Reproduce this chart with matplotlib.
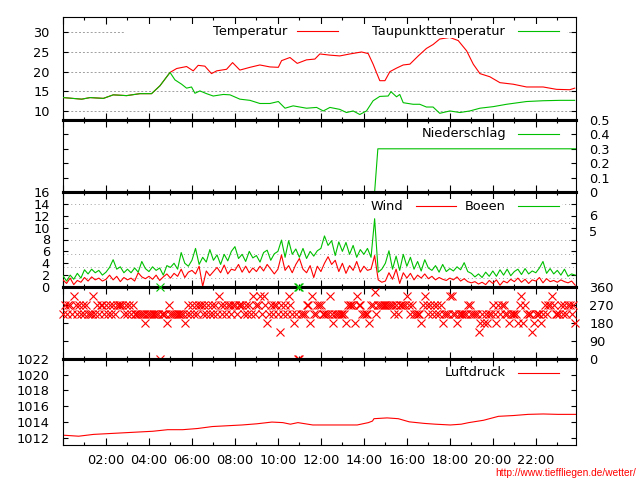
import numpy as np
import matplotlib
matplotlib.use("Agg")
import matplotlib.pyplot as plt
from matplotlib.lines import Line2D
from matplotlib.patches import Rectangle

plt.rcParams['font.family'] = ['DejaVu Sans']

# ---------------- data ----------------
temp_hours = [0.02, 0.87, 1.26, 1.88, 2.34, 2.96, 3.58, 4.12, 4.51, 4.98, 5.29, 5.75, 6.06, 6.29,
              6.60, 6.91, 7.15, 7.61, 7.89, 8.23, 8.70, 9.16, 9.63, 10.02, 10.17, 10.56, 10.90,
              11.33, 11.72, 11.95, 12.42, 12.88, 13.35, 13.89, 14.20, 14.43, 14.74, 14.98, 15.21,
              15.52, 15.83, 16.14, 16.53, 16.91, 17.22, 17.53, 18.00, 18.39, 18.78, 19.09, 19.40,
              19.86, 20.33, 20.95, 21.57, 22.34, 22.96, 23.58, 23.81]
temp_values = [13.4, 13.0, 13.4, 13.2, 14.1, 13.9, 14.4, 14.4, 16.4, 19.8, 20.8, 21.3, 20.2, 21.6,
               21.4, 19.5, 20.2, 20.6, 22.3, 20.4, 21.1, 21.7, 21.2, 21.1, 22.8, 23.6, 22.1,
               23.0, 23.2, 24.5, 24.2, 24.0, 24.5, 25.0, 24.6, 21.9, 17.7, 17.7, 20.0,
               20.9, 21.7, 21.9, 24.0, 25.9, 26.9, 28.3, 28.7, 27.9, 25.3, 21.9, 19.5,
               18.7, 17.2, 16.8, 16.1, 16.1, 15.5, 15.4, 15.8]

dew_hours = [0.02, 0.87, 1.26, 1.88, 2.34, 2.96, 3.58, 4.12, 4.51, 4.98, 5.21, 5.52, 5.75, 5.98,
             6.14, 6.37, 6.68, 6.99, 7.46, 7.77, 8.23, 8.70, 9.16, 9.63, 10.02, 10.33, 10.71,
             11.33, 11.80, 12.11, 12.42, 12.88, 13.19, 13.50, 13.81, 14.12, 14.43, 14.74, 15.13,
             15.26, 15.52, 15.67, 15.83, 16.29, 16.60, 16.91, 17.22, 17.53, 18.00, 18.47, 18.93,
             19.40, 20.02, 20.64, 21.57, 22.34, 23.12, 23.81]
dew_values = [13.4, 13.0, 13.4, 13.2, 14.1, 13.9, 14.4, 14.4, 16.4, 19.8, 17.9, 16.8, 15.8, 16.1,
              14.5, 15.1, 14.4, 13.8, 14.2, 14.1, 13.0, 12.7, 11.9, 11.9, 12.4, 10.7, 11.3,
              10.7, 10.9, 10.0, 10.9, 10.4, 9.6, 10.0, 9.1, 10.0, 12.6, 13.7, 13.8,
              14.9, 13.6, 14.2, 12.1, 11.7, 11.7, 11.0, 11.0, 9.4, 10.0, 9.6, 10.0,
              10.7, 11.1, 11.7, 12.4, 12.6, 12.7, 12.7]

rain_hours = [0.0, 14.50, 14.65, 23.87]
rain_values = [0.0, 0.0, 0.3, 0.3]

# wind and gusts, one value per 10 minutes (6 per hour)
wind_values = [
    1.2, 0.6, 1.5, 0.4, 1.1, 0.8,
    1.6, 1.0, 1.7, 1.2, 1.5, 1.0,
    1.3, 2.0, 1.2, 1.8, 0.9, 1.6,
    1.2, 1.5, 1.0, 2.4, 1.7, 1.4,
    1.8, 1.3, 2.0, 1.1, 1.7, 2.2,
    1.5, 2.3, 1.8, 3.0, 1.6, 2.5,
    2.8, 2.2, 3.5, 0.1, 2.7, 1.9,
    2.6, 3.3, 2.4, 3.7, 2.2, 3.0,
    2.8, 3.8, 2.5, 3.5, 2.4, 3.2,
    2.6, 3.5, 2.7, 3.8, 3.0, 2.2,
    3.0, 5.4, 2.8, 3.6, 2.4, 3.8,
    4.8, 3.0, 2.4, 3.6, 1.6, 3.5,
    2.6, 4.0, 5.1, 3.8, 4.5, 2.6,
    4.0, 2.3, 3.6, 2.8, 4.3, 2.5,
    3.5, 2.8, 3.0, 5.3, 1.2, 0.8,
    1.0, 2.4, 1.3, 3.0, 0.6, 2.4,
    1.5, 2.3, 1.2, 2.0, 1.5, 2.2,
    1.4, 1.8, 1.2, 1.6, 1.3, 1.1,
    1.5, 1.2, 1.7, 1.0, 1.4, 0.9,
    0.7, 0.9, 0.5, 0.8, 0.4, 1.1,
    0.6, 1.2, 0.3, 1.0, 0.7, 1.3,
    0.9, 1.5, 0.8, 1.3, 0.6, 1.2,
    1.0, 1.6, 0.7, 1.4, 0.9, 1.1,
    0.8, 1.2, 0.9, 0.7, 1.0, 0.3]
gust_values = [
    1.9, 1.0, 2.0, 1.3, 2.3, 1.5,
    2.9, 2.2, 3.0, 2.4, 2.8, 2.0,
    2.5, 3.3, 4.6, 3.0, 3.4, 2.4,
    3.0, 2.4, 3.2, 2.5, 4.3, 3.1,
    2.6, 3.4, 2.8, 3.2, 2.0, 3.6,
    3.3, 4.0, 3.0, 5.8, 4.0, 3.5,
    4.5, 6.5, 3.8, 5.0, 4.2, 6.3,
    4.5, 5.4, 3.8, 5.5, 4.4, 6.0,
    6.8, 4.8, 5.5, 4.3, 6.0, 4.9,
    5.3, 4.2, 5.8, 6.2, 4.5, 5.6,
    6.0, 7.9, 5.0, 7.8, 5.5, 6.4,
    5.0, 6.5, 4.8, 6.0, 5.2, 6.1,
    6.5, 8.6, 7.0, 7.8, 5.3, 7.6,
    6.0, 7.5, 5.5, 7.0, 5.0, 6.3,
    5.5, 6.5, 5.0, 11.5, 2.5, 3.0,
    4.0, 6.1, 3.0, 5.2, 2.8, 5.5,
    3.5, 5.0, 3.0, 4.3, 2.7, 4.6,
    3.2, 2.8, 3.6, 2.5, 3.8, 2.6,
    3.1, 2.7, 3.4, 2.9, 4.1, 2.6,
    2.3, 1.7, 2.2, 1.6, 2.5, 1.8,
    2.7, 1.8, 2.9, 2.0, 3.0, 1.9,
    2.6, 3.0, 2.1, 3.1, 2.2, 2.7,
    2.4, 3.2, 4.3, 2.3, 3.1, 2.2,
    2.8, 2.0, 3.0, 1.8, 2.2, 2.0]
beaufort_bounds = [1.6, 3.4, 5.5, 8.0, 10.8, 13.9]
beaufort_labels = ['6', '5']
beaufort_label_pos = [11.95, 9.2]

# wind direction, one value per 5 minutes (12 per hour)
dir_values = [
    225, 270, 225, 270, 270, 225, 315, 270, 225, 270, 225, 270,
    225, 270, 225, 225, 225, 315, 225, 270, 225, 270, 270, 225,
    270, 225, 270, 225, 270, 225, 270, 270, 270, 270, 225, 270,
    225, 270, 225, 270, 225, 225, 225, 225, 225, 225, 180, 225,
    225, 225, 225, 225, 225, 225, 0, 225, 225, 225, 180, 270,
    225, 225, 225, 225, 225, 225, 225, 225, 180, 225, 270, 225,
    270, 225, 270, 225, 270, 270, 225, 270, 225, 270, 225, 270,
    225, 270, 225, 315, 270, 225, 270, 225, 270, 270, 225, 270,
    270, 225, 270, 270, 270, 225, 270, 225, 270, 225, 315, 225,
    270, 270, 315, 225, 315, 270, 180, 225, 270, 225, 270, 270,
    225, 135, 270, 225, 270, 225, 315, 270, 225, 180, 225, 0,
    0, 225, 225, 225, 270, 270, 180, 315, 225, 225, 270, 270,
    270, 225, 225, 225, 225, 315, 225, 180, 225, 225, 225, 225,
    225, 225, 180, 270, 270, 270, 270, 180, 315, 270, 270, 225,
    225, 225, 225, 180, 270, 270, 337.5, 225, 270, 270, 270, 270,
    270, 270, 270, 270, 270, 225, 270, 225, 270, 270, 270, 270,
    315, 270, 225, 270, 225, 225, 225, 225, 180, 270, 315, 270,
    225, 270, 225, 270, 225, 270, 225, 270, 180, 225, 225, 225,
    315, 315, 225, 225, 180, 225, 225, 225, 225, 225, 270, 270,
    225, 225, 225, 225, 135, 180, 225, 180, 225, 180, 225, 225,
    270, 225, 180, 270, 225, 270, 270, 225, 225, 180, 225, 225,
    225, 225, 180, 270, 315, 180, 270, 225, 225, 225, 135, 180,
    225, 225, 225, 180, 225, 270, 225, 270, 270, 315, 270, 225,
    225, 225, 270, 225, 270, 225, 270, 270, 225, 270, 180]
dir_ticks = [0, 90, 180, 270, 360]

press_hours = [0.0, 0.73, 1.42, 2.11, 2.80, 3.49, 4.18, 4.87, 5.57, 6.26, 6.95, 7.64, 8.33, 9.02,
               9.72, 10.23, 10.58, 10.93, 11.62, 12.31, 13.00, 13.69, 14.21, 14.40, 14.47, 15.08,
               15.60, 16.11, 16.81, 17.32, 18.02, 18.53, 18.88, 19.57, 20.26, 20.95, 21.64,
               22.34, 23.03, 23.87]
press_values = [1012.3, 1012.17, 1012.4, 1012.5, 1012.6, 1012.7, 1012.8, 1013.0, 1013.0, 1013.15,
                1013.4, 1013.5, 1013.6, 1013.75, 1013.97, 1013.9, 1013.7, 1013.9, 1013.6, 1013.6,
                1013.6, 1013.6, 1013.9, 1014.1, 1014.4, 1014.5, 1014.4, 1014.0, 1013.8, 1013.7,
                1013.6, 1013.7, 1013.9, 1014.2, 1014.7, 1014.8, 1014.95, 1015.0, 1014.95, 1014.95]

time_labels = ['02:00', '04:00', '06:00', '08:00', '10:00', '12:00', '14:00', '16:00',
               '18:00', '20:00', '22:00']

wind_hours = np.arange(len(wind_values)) / 6.0
dir_hours = np.arange(len(dir_values)) / 12.0

RED = '#ff0000'
GREEN = '#00c000'
GRID = '#a0a0a0'
FS = 9.3

# ---------------- layout ----------------
W, H = 640, 480
fig = plt.figure(figsize=(6.4, 4.8), dpi=100)
L, R = 63, 576


def make_ax(top, bottom):
    return fig.add_axes([L / W, 1 - bottom / H, (R - L) / W, (bottom - top) / H])


panels = [(17, 120), (120, 192), (192, 287), (287, 359), (359, 445)]
axes = [make_ax(t, b) for t, b in panels]
ax1, ax2, ax3, ax4, ax5 = axes

for i, ax in enumerate(axes):
    ax.set_xlim(0, 23.87)
    ax.set_xticks(np.arange(0, 24, 2))
    ax.set_xticks(np.arange(1, 24, 2), minor=True)
    ax.tick_params(axis='x', which='both', direction='in', top=True, bottom=True,
                   labelbottom=False, width=0.8)
    ax.tick_params(axis='x', which='major', length=5)
    ax.tick_params(axis='x', which='minor', length=2.5)
    ax.tick_params(axis='y', which='both', direction='in', left=True, right=True,
                   length=3.5, width=0.8, labelsize=FS, pad=9.5)
    for s in ax.spines.values():
        s.set_linewidth(0.8)
    if i > 0:
        ax.spines['top'].set_linewidth(2.2)
    if i < 4:
        ax.spines['bottom'].set_linewidth(2.2)
    ax.set_facecolor('white')

# panel 1: temperature
ax1.plot(temp_hours, temp_values, color=RED, lw=0.8, zorder=3)
ax1.plot(dew_hours, dew_values, color=GREEN, lw=0.8, zorder=3)
ax1.set_ylim(7.7, 33.9)
ax1.set_yticks([10, 15, 20, 25, 30])
for v in [10, 15, 20, 25, 30]:
    ax1.axhline(v, color=GRID, lw=0.7, ls=(0, (2, 2)), zorder=1)
ax1.tick_params(axis='y', labelleft=True, labelright=False)

# panel 2: precipitation
ax2.plot(rain_hours, rain_values, color=GREEN, lw=0.8)
ax2.set_ylim(0, 0.5)
ax2.set_yticks([0, 0.1, 0.2, 0.3, 0.4, 0.5])
ax2.set_yticklabels(['0', '0.1', '0.2', '0.3', '0.4', '0.5'])
ax2.tick_params(axis='y', labelleft=False, labelright=True)

# panel 3: wind
ax3.plot(wind_hours, wind_values, color=RED, lw=0.8, zorder=3)
ax3.plot(wind_hours, gust_values, color=GREEN, lw=0.8, zorder=3)
ax3.set_ylim(0, 16)
ax3.set_yticks(np.arange(0, 17, 2))
for v in beaufort_bounds:
    ax3.axhline(v, color=GRID, lw=0.7, ls=(0, (1, 3)), zorder=1)
ax3.tick_params(axis='y', labelleft=True, labelright=False)
for lab, v in zip(beaufort_labels, beaufort_label_pos):
    ax3.text(1 + 13 / (R - L), v, lab, transform=ax3.get_yaxis_transform(),
             ha='left', va='center', fontsize=FS)

# panel 4: wind direction
dh = np.array(dir_hours)
dv = np.array(dir_values, dtype=float)
ax4.plot(dh, dv, ls='none', marker='x', ms=5.2, mew=0.8, color=RED, clip_on=False, zorder=3)
north = dv == 0
ax4.plot(dh[north], np.full(north.sum(), 360.0), ls='none', marker='x', ms=5.2, mew=0.8,
         color=GREEN, clip_on=False, zorder=3)
ax4.set_ylim(0, 360)
ax4.set_yticks(dir_ticks)
ax4.tick_params(axis='y', labelleft=False, labelright=True)

# panel 5: pressure
ax5.plot(press_hours, press_values, color=RED, lw=0.8)
ax5.set_ylim(1011.05, 1022)
ax5.set_yticks(np.arange(1012, 1023, 2))
ax5.tick_params(axis='y', labelleft=True, labelright=False)
ax5.tick_params(axis='x', labelbottom=True, labelsize=FS, pad=6.5)
ax5.set_xticks(np.arange(0, 24, 2))
ax5.set_xticklabels([''] + time_labels)


# ---------------- legends ----------------
def fx(px):
    return px / W


def fy(py):
    return 1 - py / H


def key_box(x0, x1, y0, y1):
    fig.patches.append(Rectangle((fx(x0), fy(y1)), fx(x1) - fx(x0), fy(y0) - fy(y1),
                                 transform=fig.transFigure, facecolor='white',
                                 edgecolor='none', zorder=1))


def key(text, text_right, lx0, lx1, y, color):
    fig.text(fx(text_right), fy(y), text, ha='right', va='center', fontsize=FS, zorder=3)
    fig.add_artist(Line2D([fx(lx0), fx(lx1)], [fy(y), fy(y)], color=color, lw=0.8,
                          transform=fig.transFigure, zorder=3))


key_box(125, 567, 24, 38)
key('Temperatur', 287, 297, 338, 31, RED)
key('Taupunkttemperatur', 505, 518, 559, 31, GREEN)
key('Niederschlag', 506, 518, 559, 134, GREEN)
key_box(364, 562, 199, 213)
key('Wind', 403, 416, 456, 206, RED)
key('Boeen', 506, 518, 559, 206, GREEN)
key('Luftdruck', 506, 518, 559, 373, RED)

fig.text(fx(636), fy(473), 'http://www.tieffliegen.de/wetter/', ha='right', va='center',
         fontsize=7.3, color=RED, family=['Liberation Sans', 'DejaVu Sans'])

fig.savefig('out.png', dpi=100, facecolor='white')
